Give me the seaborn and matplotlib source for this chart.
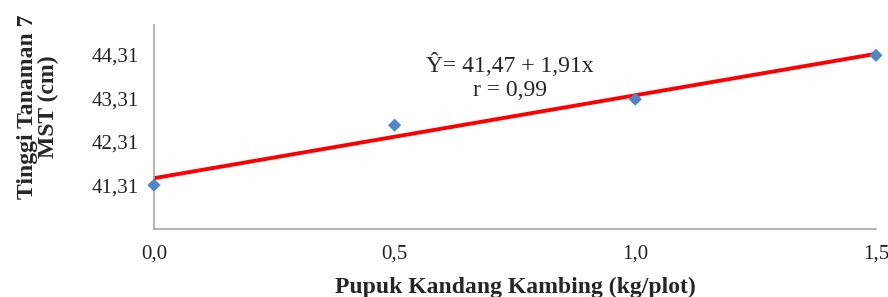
import numpy as np
import pandas as pd
import matplotlib
matplotlib.use('Agg')
import matplotlib.pyplot as plt
import seaborn as sns

# data
dosis = [0.0, 0.5, 1.0, 1.5]
tinggi = [41.31, 42.69, 43.29, 44.30]
intercept = 41.47
slope = 1.91
x_ticks = [0.0, 0.5, 1.0, 1.5]
x_ticklabels = ['0,0', '0,5', '1,0', '1,5']
y_ticks = [41.31, 42.31, 43.31, 44.31]
y_ticklabels = ['41,31', '42,31', '43,31', '44,31']

df = pd.DataFrame({'x': dosis, 'y': tinggi})
fit = pd.DataFrame({'x': [min(dosis), max(dosis)]})
fit['y'] = intercept + slope * fit['x']

sns.set_style('white')
plt.rcParams['font.family'] = ['Liberation Serif', 'DejaVu Serif']

fig = plt.figure(figsize=(8.88, 2.97), dpi=100)
ax = fig.add_axes([0.1734, 0.229, 0.813, 0.687])

sns.lineplot(data=fit, x='x', y='y', color='#ff0000', linewidth=2.8, ax=ax, zorder=2)
sns.scatterplot(data=df, x='x', y='y', marker='D', color='#4f86c6', s=45,
                edgecolor='none', ax=ax, zorder=3, clip_on=False)

ax.set_xlim(0, 1.5)
ax.set_ylim(40.3, 45.0)
ax.set_xticks(x_ticks)
ax.set_xticklabels(x_ticklabels, fontsize=15, color='#222222')
ax.set_yticks(y_ticks)
ax.set_yticklabels(y_ticklabels, fontsize=15, color='#222222')

for side in ['top', 'right']:
    ax.spines[side].set_visible(False)
for side in ['left', 'bottom']:
    ax.spines[side].set_color('#a6a6a6')
    ax.spines[side].set_linewidth(1.2)
ax.tick_params(axis='both', direction='out', length=5, width=1.2, color='#a6a6a6', pad=6)

ax.set_xlabel('Pupuk Kandang Kambing (kg/plot)', fontsize=17, fontweight='bold')
ax.xaxis.set_label_coords(0.5, -0.235)
ax.set_ylabel('')
fig.text(38 / 888, 1 - 107 / 297, 'Tinggi Tanaman 7\nMST (cm)', rotation=90,
         ha='center', va='center', multialignment='center',
         fontsize=17, fontweight='bold', linespacing=1.05)

ax.text(0.74, 44.08, 'Ŷ= 41,47 + 1,91x', ha='center', va='center', fontsize=17)
ax.text(0.74, 43.49, 'r = 0,99', ha='center', va='center', fontsize=17)

fig.savefig('out.png', dpi=100)
